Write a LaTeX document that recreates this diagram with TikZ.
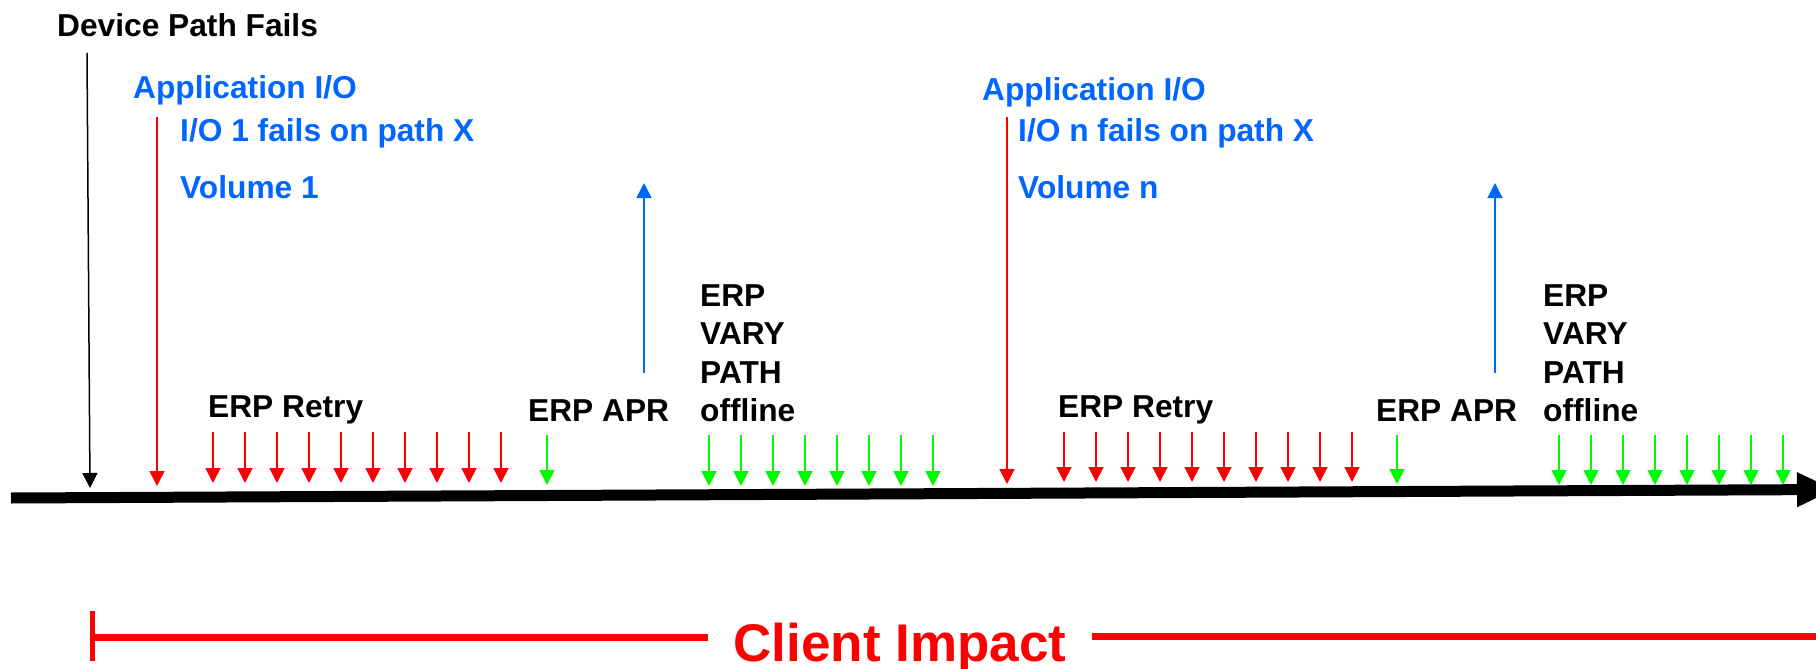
\documentclass[tikz,border=0pt]{standalone}
\usepackage{fontspec}
\setmainfont{Liberation Sans}
\usetikzlibrary{arrows.meta}
\definecolor{ioblue}{RGB}{0,102,255}
\definecolor{evred}{RGB}{255,0,0}
\definecolor{evgreen}{RGB}{0,250,0}
\begin{document}
\begin{tikzpicture}[x=1pt,y=-1pt,
  lbl/.style={anchor=base west, inner sep=0pt, font=\fontsize{31.7}{38.5}\selectfont\bfseries},
  bluelbl/.style={lbl, text=ioblue},
  varylbl/.style={lbl, anchor=north west, align=left},
  tiphead/.style={-{Triangle[length=15pt 0 0,width=15pt 0 0]}},
  longline/.style={tiphead, line width=1.5pt},
  smallarr/.style={tiphead, line width=1.8pt},
  redarr/.style={smallarr, evred},
  greenarr/.style={smallarr, evgreen},
  bluearr/.style={longline, ioblue},
]
\useasboundingbox (0,0) rectangle (1816,669);

% timeline
\coordinate (tls) at (11,498);
\coordinate (tle) at (1835,489.5);
\draw[line width=11pt, -{Triangle[length=38pt 0 0,width=32pt 0 0]}] (tls) -- (tle);

% first group texts
\node[lbl] (dpf) at (57,37) {Device Path Fails};
\node[bluelbl] (app1) at (133,99) {Application I/O};
\node[bluelbl] (fail1) at (180,141) {I/O 1 fails on path X};
\node[bluelbl] (vol1) at (180,198) {Volume 1};
\node[lbl] (retry1) at (208,417) {ERP Retry};
\node[lbl] (apr1) at (528,421) {ERP APR};
\node[varylbl] (vary1) at (700,284) {ERP\\VARY\\PATH\\offline};

% second group texts
\node[bluelbl] (app2) at (982,100) {Application I/O};
\node[bluelbl] (fail2) at (1018,141) {I/O n fails on path X};
\node[bluelbl] (vol2) at (1018,198) {Volume n};
\node[lbl] (retry2) at (1058,417) {ERP Retry};
\node[lbl] (apr2) at (1376,421) {ERP APR};
\node[varylbl] (vary2) at (1543,284) {ERP\\VARY\\PATH\\offline};

% long arrows
\coordinate (blk-a) at (87,53);
\coordinate (blk-b) at (90,488);
\draw[longline, black] (blk-a) -- (blk-b);
\coordinate (r1-a) at (157,117);
\coordinate (r1-b) at (157,486);
\draw[longline, evred] (r1-a) -- (r1-b);
\coordinate (r2-a) at (1007,117);
\coordinate (r2-b) at (1007,484);
\draw[longline, evred] (r2-a) -- (r2-b);
\coordinate (b1-a) at (644,373);
\coordinate (b1-b) at (644,183);
\draw[bluearr] (b1-a) -- (b1-b);
\coordinate (b2-a) at (1495,373);
\coordinate (b2-b) at (1495,183);
\draw[bluearr] (b2-a) -- (b2-b);

% retry arrows
\foreach \i in {0,...,9}{
  \coordinate (ra\i) at ({213+32*\i},432);
  \coordinate (rb\i) at ({213+32*\i},483);
  \draw[redarr] (ra\i) -- (rb\i);
  \coordinate (sa\i) at ({1064+32*\i},432);
  \coordinate (sb\i) at ({1064+32*\i},482);
  \draw[redarr] (sa\i) -- (sb\i);
}
% APR arrows
\coordinate (g1-a) at (547,435);
\coordinate (g1-b) at (547,485);
\draw[greenarr] (g1-a) -- (g1-b);
\coordinate (g2-a) at (1397,435);
\coordinate (g2-b) at (1397,484);
\draw[greenarr] (g2-a) -- (g2-b);
% vary path arrows
\foreach \i in {0,...,7}{
  \coordinate (va\i) at ({709+32*\i},435);
  \coordinate (vb\i) at ({709+32*\i},486);
  \draw[greenarr] (va\i) -- (vb\i);
  \coordinate (wa\i) at ({1559+32*\i},435);
  \coordinate (wb\i) at ({1559+32*\i},485);
  \draw[greenarr] (wa\i) -- (wb\i);
}

% client impact
\node[anchor=base, inner xsep=25pt, inner ysep=0pt, text=evred,
      font=\fontsize{53}{60}\selectfont\bfseries] (ci) at (900,661) {Client Impact};
\coordinate (cit) at (92,611);
\coordinate (cib) at (92,661);
\draw[evred, line width=5pt] (cit) -- (cib);
\coordinate (cil) at (92,637.5);
\coordinate (cir) at (1816,636.5);
\draw[evred, line width=6.5pt] (cil) -- (ci.west |- cil);
\draw[evred, line width=6.5pt] (ci.east |- cir) -- (cir);
\end{tikzpicture}
\end{document}
